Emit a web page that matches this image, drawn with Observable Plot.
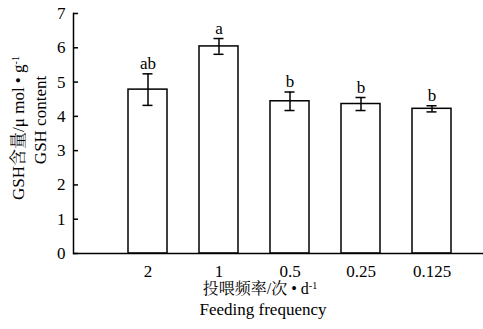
<!DOCTYPE html>
<html>
<head>
<meta charset="utf-8">
<script src="https://cdn.jsdelivr.net/npm/d3@7"></script>
<script src="https://cdn.jsdelivr.net/npm/@observablehq/plot@0.6"></script>
<style>
  html, body { margin: 0; padding: 0; background: #fff; }
</style>
</head>
<body>
<div id="chart"></div>
<script>
const categories = ["2", "1", "0.5", "0.25", "0.125"];
const means = [4.78, 6.04, 4.44, 4.36, 4.22];
const errors = [0.46, 0.23, 0.27, 0.19, 0.09];
const letters = ["ab", "a", "b", "b", "b"];
const yTicks = [0, 1, 2, 3, 4, 5, 6, 7];

const data = categories.map((c, i) => ({
  c, m: means[i], lo: means[i] - errors[i], hi: means[i] + errors[i], L: letters[i]
}));

const font = "Liberation Serif, Noto Serif CJK SC, serif";

const plot = Plot.plot({
  width: 483,
  height: 329,
  marginLeft: 73,
  marginRight: 0,
  marginTop: 13,
  marginBottom: 76,
  style: { fontFamily: font, fontSize: "16px" },
  x: { type: "band", domain: categories, range: [90, 490], paddingInner: 0.444, paddingOuter: 0.5, label: null },
  y: { domain: [0, 7], label: null },
  marks: [
    Plot.barY(data, { x: "c", y: "m", fill: "white", stroke: "black", strokeWidth: 1.5 }),
    Plot.ruleX(data, { x: "c", y1: "lo", y2: "hi", stroke: "black", strokeWidth: 1.5 }),
    Plot.tickY(data, { x: "c", y: "lo", stroke: "black", strokeWidth: 1.5, insetLeft: 14.5, insetRight: 14.5 }),
    Plot.tickY(data, { x: "c", y: "hi", stroke: "black", strokeWidth: 1.5, insetLeft: 14.5, insetRight: 14.5 }),
    Plot.text(data, { x: "c", y: "hi", text: "L", dy: -5, lineAnchor: "bottom", fill: "black", fontSize: 17 }),
    Plot.axisY({ ticks: yTicks, tickSize: -5, tickPadding: 13, tickFormat: d => String(d), fontSize: 17, label: null, stroke: "black", strokeWidth: 1.5 }),
    Plot.axisX({ tickSize: 0, tickPadding: 11, fontSize: 17, label: null }),
    Plot.frame({ anchor: "left", stroke: "black", strokeWidth: 1.5 }),
    Plot.ruleY([0], { stroke: "black", strokeWidth: 1.5 })
  ]
});

document.getElementById("chart").appendChild(plot);

const svg = d3.select(plot);

function addText(x, y, rotate, size, parts) {
  const t = svg.append("text")
    .attr("transform", `translate(${x},${y})` + (rotate ? ` rotate(${rotate})` : ""))
    .attr("text-anchor", "middle")
    .attr("font-size", size)
    .attr("font-family", font)
    .attr("fill", "black");
  parts.forEach(p => {
    const s = t.append("tspan").text(p.t);
    if (p.sup) s.attr("font-size", 10).attr("baseline-shift", "super");
  });
}

// x-axis titles
addText(260, 294, 0, 16, [{ t: "投喂频率/次 • d" }, { t: "-1", sup: true }]);
addText(263, 315, 0, 17, [{ t: "Feeding frequency" }]);
// y-axis titles
addText(24, 128, -90, 17, [{ t: "GSH含量/μ mol • g" }, { t: "-1", sup: true }]);
addText(46, 120, -90, 17, [{ t: "GSH content" }]);
</script>
</body>
</html>
